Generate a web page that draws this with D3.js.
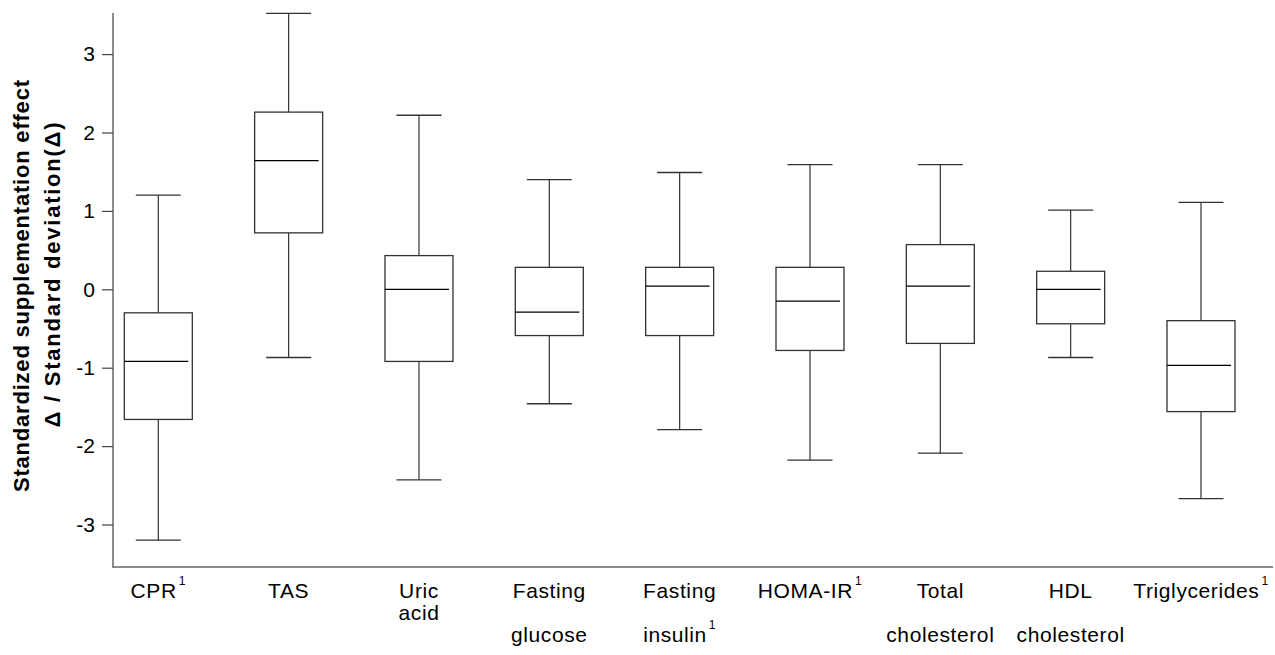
<!DOCTYPE html>
<html>
<head>
<meta charset="utf-8">
<script src="https://cdn.jsdelivr.net/npm/d3@7"></script>
<style>
  body { margin: 0; background: #fff; }
  text { font-family: Arial, "Liberation Sans", sans-serif; fill: #000; }
</style>
</head>
<body>
<div class="container"></div>
<script>
const WIDTH = 1275;
const HEIGHT = 655;

// box plot values
const categories = ["CPR", "TAS", "Uric acid", "Fasting glucose", "Fasting insulin", "HOMA-IR", "Total cholesterol", "HDL cholesterol", "Triglycerides"];
const whiskerHigh = [1.20, 3.52, 2.22, 1.40, 1.49, 1.59, 1.59, 1.01, 1.11];
const q3 = [-0.30, 2.26, 0.43, 0.28, 0.28, 0.28, 0.57, 0.23, -0.40];
const median = [-0.92, 1.64, 0.00, -0.29, 0.04, -0.15, 0.04, 0.00, -0.97];
const q1 = [-1.66, 0.72, -0.92, -0.59, -0.59, -0.78, -0.69, -0.44, -1.56];
const whiskerLow = [-3.20, -0.87, -2.43, -1.46, -1.79, -2.18, -2.09, -0.87, -2.67];

// tick labels
const labelLines = [["CPR"], ["TAS"], ["Uric", "acid"], ["Fasting", "glucose"], ["Fasting", "insulin"],
  ["HOMA-IR"], ["Total", "cholesterol"], ["HDL", "cholesterol"], ["Triglycerides"]];
const footnote = [true, false, false, false, true, true, false, false, true];
const yTicks = [-3, -2, -1, 0, 1, 2, 3];
const yTitle = ["Standardized supplementation effect", "\u0394 / Standard deviation(\u0394)"];

var translate = function(x, y){
  return "translate(" + x + ", " + y + ")";
};

var load = function(){
  var data = categories.map(function(c, i){
    return {name: c, hi: whiskerHigh[i], q3: q3[i], med: median[i], q1: q1[i], lo: whiskerLow[i],
      lines: labelLines[i], sup: footnote[i]};
  });

  var xScale = d3.scalePoint()
    .domain(categories)
    .range([158.3, 1201]);

  var yScale = d3.scaleLinear()
    .domain([-3.5, 3.5])
    .range([563.7, 14.9]);

  var svg = d3.select(".container").append("svg")
    .attr("width", WIDTH)
    .attr("height", HEIGHT);

  // axes lines
  svg.append("line")
    .attr("x1", 113).attr("x2", 113).attr("y1", 13).attr("y2", 567.5)
    .attr("stroke", "#666").attr("stroke-width", 1.5);
  svg.append("line")
    .attr("x1", 112.5).attr("x2", 1273).attr("y1", 567).attr("y2", 567)
    .attr("stroke", "#666").attr("stroke-width", 1.5);

  var yAxis = d3.axisLeft(yScale).tickValues(yTicks).tickSize(11).tickPadding(7)
    .tickFormat(function(d){ return String(d); });
  var yAxisGroup = svg.append("g")
    .attr("transform", translate(113, 0))
    .call(yAxis);
  yAxisGroup.select(".domain").remove();
  yAxisGroup.selectAll(".tick line").attr("stroke", "#444").attr("stroke-width", 1.2);
  yAxisGroup.selectAll(".tick text")
    .style("font-size", "21px")
    .style("font-family", "Arial, 'Liberation Sans', sans-serif")
    .attr("fill", "#000");

  // y title
  var title = svg.append("g").attr("transform", "rotate(-90)");
  title.append("text")
    .attr("x", -286).attr("y", 29)
    .attr("text-anchor", "middle")
    .attr("textLength", 412)
    .style("font-size", "22px").style("font-weight", "bold")
    .text(yTitle[0]);
  title.append("text")
    .attr("x", -275).attr("y", 60)
    .attr("text-anchor", "middle")
    .attr("textLength", 305)
    .style("font-size", "22px").style("font-weight", "bold")
    .text(yTitle[1]);

  // boxes
  var boxW = 68, capW = 45;
  var g = svg.selectAll(".box").data(data).enter().append("g")
    .attr("class", "box")
    .attr("transform", function(d){ return translate(xScale(d.name), 0); });

  g.append("line")
    .attr("x1", 0).attr("x2", 0)
    .attr("y1", function(d){ return yScale(d.hi); })
    .attr("y2", function(d){ return yScale(d.q3); })
    .attr("stroke", "#333").attr("stroke-width", 1.2);
  g.append("line")
    .attr("x1", 0).attr("x2", 0)
    .attr("y1", function(d){ return yScale(d.q1); })
    .attr("y2", function(d){ return yScale(d.lo); })
    .attr("stroke", "#333").attr("stroke-width", 1.2);
  g.append("line")
    .attr("x1", -capW / 2).attr("x2", capW / 2)
    .attr("y1", function(d){ return yScale(d.hi); })
    .attr("y2", function(d){ return yScale(d.hi); })
    .attr("stroke", "#333").attr("stroke-width", 1.3);
  g.append("line")
    .attr("x1", -capW / 2).attr("x2", capW / 2)
    .attr("y1", function(d){ return yScale(d.lo); })
    .attr("y2", function(d){ return yScale(d.lo); })
    .attr("stroke", "#333").attr("stroke-width", 1.3);
  g.append("rect")
    .attr("x", -boxW / 2).attr("width", boxW)
    .attr("y", function(d){ return yScale(d.q3); })
    .attr("height", function(d){ return yScale(d.q1) - yScale(d.q3); })
    .attr("fill", "#fff").attr("stroke", "#333").attr("stroke-width", 1.3);
  g.append("line")
    .attr("x1", -boxW / 2).attr("x2", boxW / 2 - 4)
    .attr("y1", function(d){ return yScale(d.med); })
    .attr("y2", function(d){ return yScale(d.med); })
    .attr("stroke", "#000").attr("stroke-width", 1.2);

  // x labels
  var lab = g.append("text")
    .attr("text-anchor", "middle")
    .style("font-size", "21px")
    .style("letter-spacing", "0.6px");
  lab.each(function(d){
    var t = d3.select(this);
    d.lines.forEach(function(line, j){
      var dy = j === 0 ? 598 : (d.name === "Uric acid" ? 620 : 642);
      var sp = t.append("tspan").attr("x", 0).attr("y", dy).text(line);
      if (d.sup && j === d.lines.length - 1) {
        sp.append("tspan").attr("dx", 2).attr("dy", -13).style("font-size", "12px").text("1");
      }
    });
  });
};

window.onload = load;
</script>
</body>
</html>
